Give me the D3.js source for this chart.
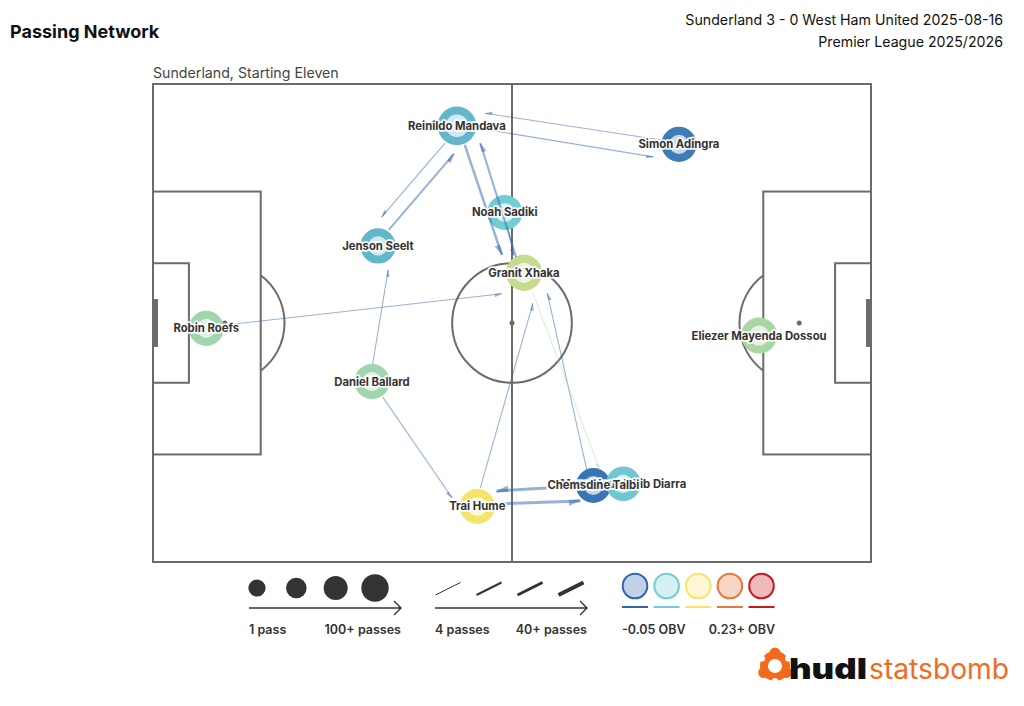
<!DOCTYPE html>
<html><head><meta charset="utf-8">
<script src="https://cdn.jsdelivr.net/npm/d3@7"></script>
<style>body{margin:0;background:#fff;} text{font-family:Inter,"Noto Sans",sans-serif;}</style>
</head><body>
<svg id="chart" width="1024" height="706"></svg>
<script>
// ---------- data ----------
const players = ["Robin Roefs","Reinildo Mandava","Simon Adingra","Noah Sadiki","Jenson Seelt","Granit Xhaka","Daniel Ballard","Trai Hume","Chemsdine Talbi","Mamadou Habib Diarra","Eliezer Mayenda Dossou"];
const playerX = [8.9, 50.8, 87.9, 58.8, 37.6, 62.0, 36.6, 54.2, 73.6, 78.6, 101.3];
const playerY = [40.9, 7.0, 10.1, 21.5, 27.1, 31.6, 49.8, 70.7, 67.2, 66.9, 42.1];
const playerPasses = [36, 62, 37, 36, 38, 44, 37, 36, 35, 33, 43];
const playerObv = [0.045, 0.005, -0.035, 0.02, 0.005, 0.065, 0.045, 0.09, -0.04, 0.017, 0.05];

const edgeFrom  = ["Simon Adingra","Reinildo Mandava","Jenson Seelt","Reinildo Mandava","Reinildo Mandava","Granit Xhaka","Noah Sadiki","Robin Roefs","Daniel Ballard","Daniel Ballard","Trai Hume","Chemsdine Talbi","Granit Xhaka","Chemsdine Talbi","Trai Hume"];
const edgeTo    = ["Reinildo Mandava","Simon Adingra","Reinildo Mandava","Jenson Seelt","Granit Xhaka","Reinildo Mandava","Granit Xhaka","Granit Xhaka","Jenson Seelt","Trai Hume","Granit Xhaka","Granit Xhaka","Mamadou Habib Diarra","Trai Hume","Chemsdine Talbi"];
const edgeCount = [5, 5, 16, 6, 22, 16, 5, 5, 5, 5, 5, 5, 4, 28, 28];
const edgeObv   = [-0.05,-0.05,-0.05,-0.05,-0.05,-0.05,-0.05,-0.05,-0.05,-0.05,-0.05,-0.05,0.055,-0.05,-0.05];
const edgeX1 = [85.2, 54.3, 39.4, 48.8, 52.1, 60.7, 59.3, 12.3, 36.7, 38.4, 54.7, 72.5, 63.5, 65.8, 57.2];
const edgeY1 = [ 9.4,  7.4, 24.4,  9.9, 10.2, 29.0, 24.0, 40.3, 46.9, 52.4, 67.6, 64.6, 35.0, 67.6, 70.3];
const edgeX2 = [55.5, 83.6, 50.3, 38.2, 58.3, 54.7, 60.3, 58.3, 39.3, 50.0, 63.5, 65.9, 74.7, 57.4, 71.4];
const edgeY2 = [ 4.9, 12.2, 11.7, 22.3, 28.6,  9.9, 28.7, 35.1, 31.1, 69.3, 36.7, 35.0, 64.6, 68.1, 69.8];

const sizeLegendPasses = [1, 34, 67, 100];
const sizeLegendLabels = ["1 pass", "100+ passes"];
const lineLegendPasses = [4, 16, 28, 40];
const lineLegendLabels = ["4 passes", "40+ passes"];
const obvLegendValues = [-0.05, 0.02, 0.09, 0.16, 0.23];
const obvLegendLabels = ["-0.05 OBV", "0.23+ OBV"];
const obvColors = ["#2f66b0","#72ccd2","#f5e46b","#e8773c","#c8181d"];

const titleText = "Passing Network";
const matchText = ["Sunderland 3 - 0 West Ham United 2025-08-16", "Premier League 2025/2026"];
const subtitleText = "Sunderland, Starting Eleven";

// ---------- scales ----------
const svg = d3.select("#chart");
const x = d3.scaleLinear().domain([0,120]).range([153, 871]);
const y = d3.scaleLinear().domain([0,80]).range([84, 562]);
const color = d3.scaleLinear().domain(obvLegendValues).range(obvColors).clamp(true);
const tint = c => d3.interpolateRgb(c, "#fff")(0.7);
const nodeR = d3.scaleLinear().domain([0,100]).range([15, 22]);
const widthS = d3.scaleLinear().domain([4,40]).range([1,4]).clamp(true);
const legendR = d3.scaleLinear().domain([1,100]).range([8.6,13.7]);
const lineCol = "#6b6b6b";

// ---------- titles ----------
svg.append("text").attr("x",10).attr("y",38).attr("font-size",18).attr("font-weight",700).attr("fill","#111").text(titleText);
matchText.forEach((t,i)=>svg.append("text").attr("x",1003).attr("y",25+i*22).attr("text-anchor","end").attr("font-size",14.2).attr("fill","#111").text(t));
svg.append("text").attr("x",153).attr("y",78).attr("font-size",14.2).attr("fill","#444").text(subtitleText);

// ---------- pitch ----------
const pitch = svg.append("g").attr("fill","none").attr("stroke",lineCol).attr("stroke-width",2);
pitch.append("rect").attr("x",x(0)).attr("y",y(0)).attr("width",x(120)-x(0)).attr("height",y(80)-y(0));
pitch.append("line").attr("x1",x(60)).attr("x2",x(60)).attr("y1",y(0)).attr("y2",y(80));
pitch.append("circle").attr("cx",x(60)).attr("cy",y(40)).attr("r",x(10)-x(0));
[[0,18],[102,120]].forEach(([a,b])=>pitch.append("rect").attr("x",x(a)).attr("y",y(18)).attr("width",x(b)-x(a)).attr("height",y(62)-y(18)));
[[0,6],[114,120]].forEach(([a,b])=>pitch.append("rect").attr("x",x(a)).attr("y",y(30)).attr("width",x(b)-x(a)).attr("height",y(50)-y(30)));
const rr = x(10)-x(0);
pitch.append("path").attr("d",`M${x(18)},${y(32)} A${rr},${rr} 0 0 1 ${x(18)},${y(48)}`);
pitch.append("path").attr("d",`M${x(102)},${y(32)} A${rr},${rr} 0 0 0 ${x(102)},${y(48)}`);
[[60],[12],[108]].forEach(([px])=>svg.append("circle").attr("cx",x(px)).attr("cy",y(40)).attr("r",2.5).attr("fill",lineCol));
svg.append("rect").attr("x",x(0)).attr("y",y(36)).attr("width",5).attr("height",y(44)-y(36)).attr("fill",lineCol);
svg.append("rect").attr("x",x(120)-5).attr("y",y(36)).attr("width",5).attr("height",y(44)-y(36)).attr("fill",lineCol);

// ---------- nodes ----------
const nodes = players.map((p,i)=>({name:p, x:playerX[i], y:playerY[i], passes:playerPasses[i], obv:playerObv[i]}));
const ringW = 8;
const gNodes = svg.append("g");
gNodes.selectAll("circle").data(nodes).join("circle")
  .attr("cx",d=>x(d.x)).attr("cy",d=>y(d.y)).attr("r",d=>nodeR(d.passes)-ringW/2)
  .attr("fill",d=>tint(color(d.obv))).attr("stroke",d=>color(d.obv)).attr("stroke-width",ringW);

// ---------- edges ----------
const edges = edgeFrom.map((f,i)=>({from:f,to:edgeTo[i],count:edgeCount[i],obv:edgeObv[i],x1:edgeX1[i],y1:edgeY1[i],x2:edgeX2[i],y2:edgeY2[i]}));
const defs = svg.append("defs");
edges.forEach((e,i)=>{
  const w = widthS(e.count);
  const L = 5 + 2.2*w, h = 1.6 + 1.0*w;
  defs.append("marker").attr("id","m"+i).attr("markerUnits","userSpaceOnUse")
    .attr("viewBox",`${-L} ${-h-1} ${L+1} ${2*h+2}`).attr("refX",0).attr("refY",0)
    .attr("markerWidth",L+1).attr("markerHeight",2*h+2).attr("orient","auto")
    .append("path").attr("d",`M0,0 L${-L},${h} L${-L},${-w/2} L0,${-w/2}Z`)
    .attr("fill",color(e.obv)).attr("fill-opacity",0.5);
});
svg.append("g").selectAll("line").data(edges).join("line")
  .attr("x1",d=>x(d.x1)).attr("y1",d=>y(d.y1)).attr("x2",d=>x(d.x2)).attr("y2",d=>y(d.y2))
  .attr("stroke",d=>color(d.obv)).attr("stroke-opacity",0.5).attr("stroke-width",d=>widthS(d.count))
  .attr("marker-end",(d,i)=>`url(#m${i})`);

// ---------- labels ----------
svg.append("g").selectAll("text").data(nodes.slice().reverse()).join("text")
  .attr("x",d=>x(d.x)).attr("y",d=>y(d.y)).attr("dy","0.35em").attr("text-anchor","middle")
  .attr("font-size",11.3).attr("font-weight",700).attr("fill","#333")
  .attr("stroke","#fff").attr("stroke-width",3.5).attr("stroke-opacity",0.9).attr("stroke-linejoin","round")
  .attr("paint-order","stroke").text(d=>d.name);

// ---------- legend ----------
const leg = svg.append("g");
const arrow = (x1,x2,yy)=>{
  leg.append("path").attr("d",`M${x1},${yy} L${x2},${yy} M${x2-7},${yy-7} L${x2},${yy} L${x2-7},${yy+7}`)
    .attr("fill","none").attr("stroke","#333").attr("stroke-width",1.4);
};
const legText = (t,xx,anchor)=>leg.append("text").attr("x",xx).attr("y",634).attr("text-anchor",anchor)
  .attr("font-size",12.5).attr("font-weight",600).attr("fill","#333").text(t);
// sizes
const sizeX = d3.scalePoint().domain(sizeLegendPasses).range([257,375]);
leg.selectAll(".sz").data(sizeLegendPasses).join("circle").attr("class","sz")
  .attr("cx",d=>sizeX(d)).attr("cy",588).attr("r",d=>legendR(d)).attr("fill","#333");
arrow(249,401,608);
legText(sizeLegendLabels[0],249,"start"); legText(sizeLegendLabels[1],401,"end");
// lines
const lineX = d3.scalePoint().domain(lineLegendPasses).range([448,571]);
leg.selectAll(".ln").data(lineLegendPasses).join("line").attr("class","ln")
  .attr("x1",d=>lineX(d)-12.5).attr("x2",d=>lineX(d)+12.5).attr("y1",595).attr("y2",582.5)
  .attr("stroke","#333").attr("stroke-width",d=>widthS(d));
arrow(435,587,608);
legText(lineLegendLabels[0],435,"start"); legText(lineLegendLabels[1],587,"end");
// obv
const obvX = d3.scalePoint().domain(obvLegendValues).range([635,761.5]);
leg.selectAll(".ob").data(obvLegendValues).join("circle").attr("class","ob")
  .attr("cx",d=>obvX(d)).attr("cy",586).attr("r",12.3)
  .attr("fill",d=>tint(color(d))).attr("stroke",d=>color(d)).attr("stroke-width",2);
leg.selectAll(".obl").data(obvLegendValues).join("line").attr("class","obl")
  .attr("x1",d=>obvX(d)-13).attr("x2",d=>obvX(d)+13).attr("y1",607).attr("y2",607)
  .attr("stroke",d=>color(d)).attr("stroke-width",2);
legText(obvLegendLabels[0],622,"start"); legText(obvLegendLabels[1],775,"end");

// ---------- logo ----------
const logo = svg.append("g");
const orange = "#f26b1d";
logo.append("circle").attr("cx",775).attr("cy",666).attr("r",11).attr("fill","none").attr("stroke",orange).attr("stroke-width",8);
[[-90],[30],[150]].forEach(([a])=>{
  const r = a*Math.PI/180;
  logo.append("circle").attr("cx",775+13*Math.cos(r)).attr("cy",666+13*Math.sin(r)).attr("r",5.5).attr("fill",orange);
});
[[-30],[90],[210]].forEach(([a])=>{
  const r = a*Math.PI/180;
  logo.append("circle").attr("cx",775+15*Math.cos(r)).attr("cy",666+15*Math.sin(r)).attr("r",3).attr("fill","#fff");
});
logo.append("text").attr("x",789).attr("y",679).attr("font-size",28).attr("font-weight",900).attr("fill","#111")
  .attr("textLength",78).attr("lengthAdjust","spacingAndGlyphs").text("hudl");
logo.append("text").attr("x",869).attr("y",679).attr("font-size",28).attr("font-weight",400).attr("fill",orange)
  .attr("textLength",140).attr("lengthAdjust","spacingAndGlyphs").text("statsbomb");
</script>
</body></html>
